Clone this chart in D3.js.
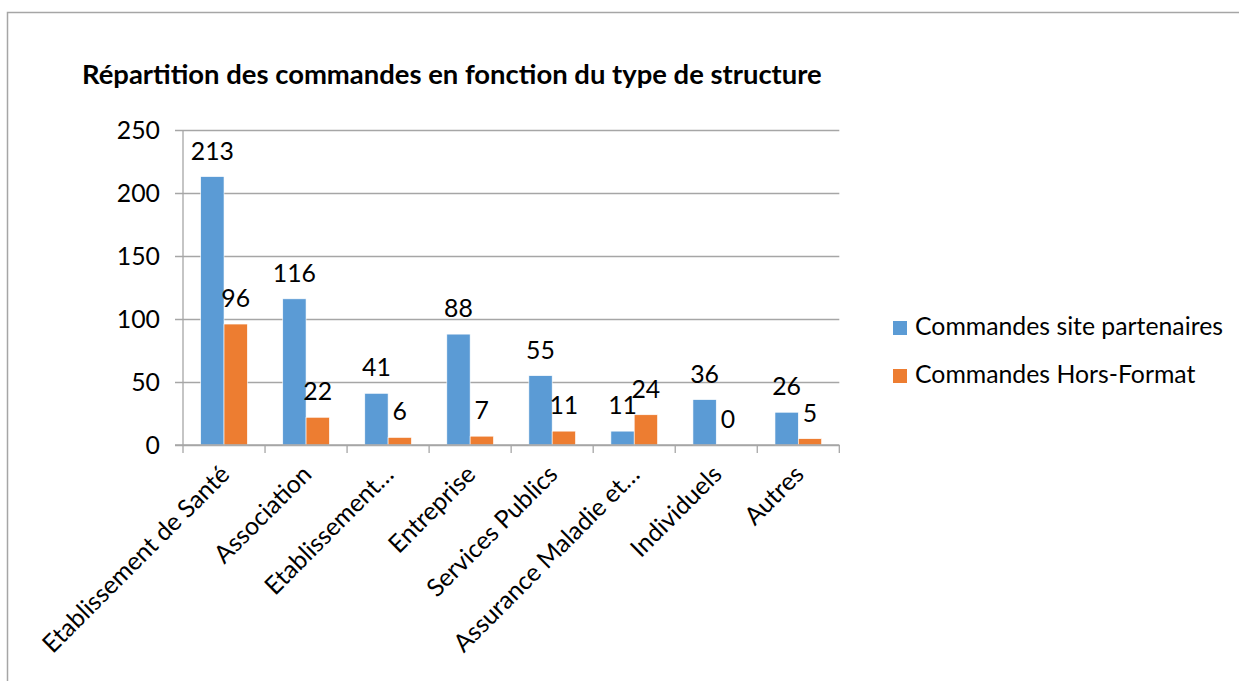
<!DOCTYPE html>
<html>
<head>
<meta charset="utf-8">
<script src="https://cdn.jsdelivr.net/npm/d3@7"></script>
<style>
    html, body { margin: 0; padding: 0; background: #fff; }
    svg { display: block; font-family: Lato, "Open Sans", sans-serif; }
</style>
</head>
<body>
<div id="chart"></div>
<script>
const chartTitle = 'Répartition des commandes en fonction du type de structure';
const categories = [
    'Etablissement de Santé',
    'Association',
    'Etablissement…',
    'Entreprise',
    'Services Publics',
    'Assurance Maladie et…',
    'Individuels',
    'Autres'
];
const seriesNames = ['Commandes site partenaires', 'Commandes Hors-Format'];
const sitePartenaires = [213, 116, 41, 88, 55, 11, 36, 26];
const horsFormat = [96, 22, 6, 7, 11, 24, 0, 5];
const yTicks = [0, 50, 100, 150, 200, 250];
const seriesColors = ['#5B9BD5', '#ED7D31'];

const width = 1239;
const height = 681;
const margin = { top: 130, right: 400, bottom: 236, left: 183 };
const labelSize = 24.8;

const svg = d3
    .select('#chart')
    .append('svg')
    .attr('width', width)
    .attr('height', height);

// Outer frame of the chart object (right and bottom edges are cropped)
svg.append('path')
    .attr('d', `M7.5,${height + 2}V12.5H${width + 2}`)
    .attr('fill', 'none')
    .attr('stroke', '#a6a6a6')
    .attr('stroke-width', 1.5);

// Scales
const xScale = d3
    .scaleBand()
    .domain(categories)
    .range([margin.left, width - margin.right + 0.3])
    .padding(0);
const seriesScale = d3
    .scaleBand()
    .domain(seriesNames)
    .range([0, xScale.bandwidth()])
    .paddingInner(0)
    .paddingOuter(0.76);
const yScale = d3
    .scaleLinear()
    .domain([0, 250])
    .range([height - margin.bottom, margin.top]);

// Gridlines + y labels
const yAxis = d3
    .axisLeft(yScale)
    .tickValues(yTicks)
    .tickSize(-(xScale.range()[1] - margin.left) - 8)
    .tickPadding(16);
svg.append('g')
    .attr('transform', `translate(${margin.left - 8}, 0)`)
    .call(yAxis)
    .call((g) => g.select('.domain').remove())
    .call((g) =>
        g.selectAll('.tick line')
            .attr('stroke', '#a6a6a6')
            .attr('stroke-width', 1.3)
            .attr('x1', 0)
            .attr('x2', xScale.range()[1] - margin.left + 8)
    )
    .call((g) =>
        g.selectAll('.tick text')
            .attr('font-size', labelSize)
            .attr('font-family', 'Lato, sans-serif')
            .attr('fill', '#000')
            .attr('x', -15)
            .attr('dy', '0.36em')
    );

// y axis line
svg.append('line')
    .attr('x1', margin.left)
    .attr('x2', margin.left)
    .attr('y1', yScale(250))
    .attr('y2', yScale(0))
    .attr('stroke', '#a6a6a6')
    .attr('stroke-width', 1.3);

// Bars
const rows = categories.map((c, i) => ({
    category: c,
    values: [sitePartenaires[i], horsFormat[i]]
}));
const groups = svg
    .append('g')
    .selectAll('g')
    .data(rows)
    .join('g')
    .attr('transform', (d) => `translate(${xScale(d.category)}, 0)`);

groups
    .selectAll('rect')
    .data((d) => d.values.map((v, j) => ({ series: seriesNames[j], value: v, idx: j })))
    .join('rect')
    .attr('x', (d) => seriesScale(d.series))
    .attr('y', (d) => yScale(d.value))
    .attr('width', seriesScale.bandwidth())
    .attr('height', (d) => yScale(0) - yScale(d.value))
    .attr('fill', (d) => seriesColors[d.idx])
    .attr('stroke', '#fff')
    .attr('stroke-width', 0.6);

groups
    .selectAll('text')
    .data((d) => d.values.map((v, j) => ({ series: seriesNames[j], value: v })))
    .join('text')
    .attr('x', (d) => seriesScale(d.series) + seriesScale.bandwidth() / 2)
    .attr('y', (d) => yScale(d.value) - 17)
    .attr('text-anchor', 'middle')
    .attr('font-size', labelSize)
    .attr('fill', '#000')
    .text((d) => d.value);

// x axis
const xAxis = d3.axisBottom(xScale).tickSize(0).tickFormat('');
svg.append('g')
    .attr('transform', `translate(0, ${yScale(0)})`)
    .call(xAxis)
    .call((g) => g.select('.domain').remove());

svg.append('line')
    .attr('x1', margin.left - 8)
    .attr('x2', xScale.range()[1])
    .attr('y1', yScale(0))
    .attr('y2', yScale(0))
    .attr('stroke', '#a6a6a6')
    .attr('stroke-width', 1.3);

// boundary ticks between categories
const boundaries = categories.map((c) => xScale(c)).concat([xScale.range()[1]]);
svg.append('g')
    .selectAll('line')
    .data(boundaries)
    .join('line')
    .attr('x1', (d) => d)
    .attr('x2', (d) => d)
    .attr('y1', yScale(0))
    .attr('y2', yScale(0) + 8)
    .attr('stroke', '#a6a6a6')
    .attr('stroke-width', 1.3);

// rotated category labels
svg.append('g')
    .selectAll('text')
    .data(categories)
    .join('text')
    .attr('transform', (d) => {
        const cx = xScale(d) + xScale.bandwidth() / 2 + 7;
        return `translate(${cx}, ${yScale(0) + 31}) rotate(-45)`;
    })
    .attr('text-anchor', 'end')
    .attr('font-size', labelSize)
    .attr('fill', '#000')
    .text((d) => d);

// Title
const title = svg
    .append('text')
    .attr('x', 82)
    .attr('y', 84)
    .attr('font-weight', 'bold')
    .attr('font-size', 24)
    .attr('fill', '#000')
    .text(chartTitle);
// fit to the width of the original title
const titleWidth = title.node().getComputedTextLength();
title.attr('font-size', (24 * 740) / titleWidth);

// Legend
const legend = svg
    .append('g')
    .selectAll('g')
    .data(seriesNames)
    .join('g')
    .attr('transform', (d, i) => `translate(893, ${321 + i * 48})`);
legend
    .append('rect')
    .attr('width', 14)
    .attr('height', 14)
    .attr('fill', (d, i) => seriesColors[i]);
legend
    .append('text')
    .attr('x', 22)
    .attr('y', 14)
    .attr('font-size', labelSize)
    .attr('fill', '#000')
    .text((d) => d);
</script>
</body>
</html>
